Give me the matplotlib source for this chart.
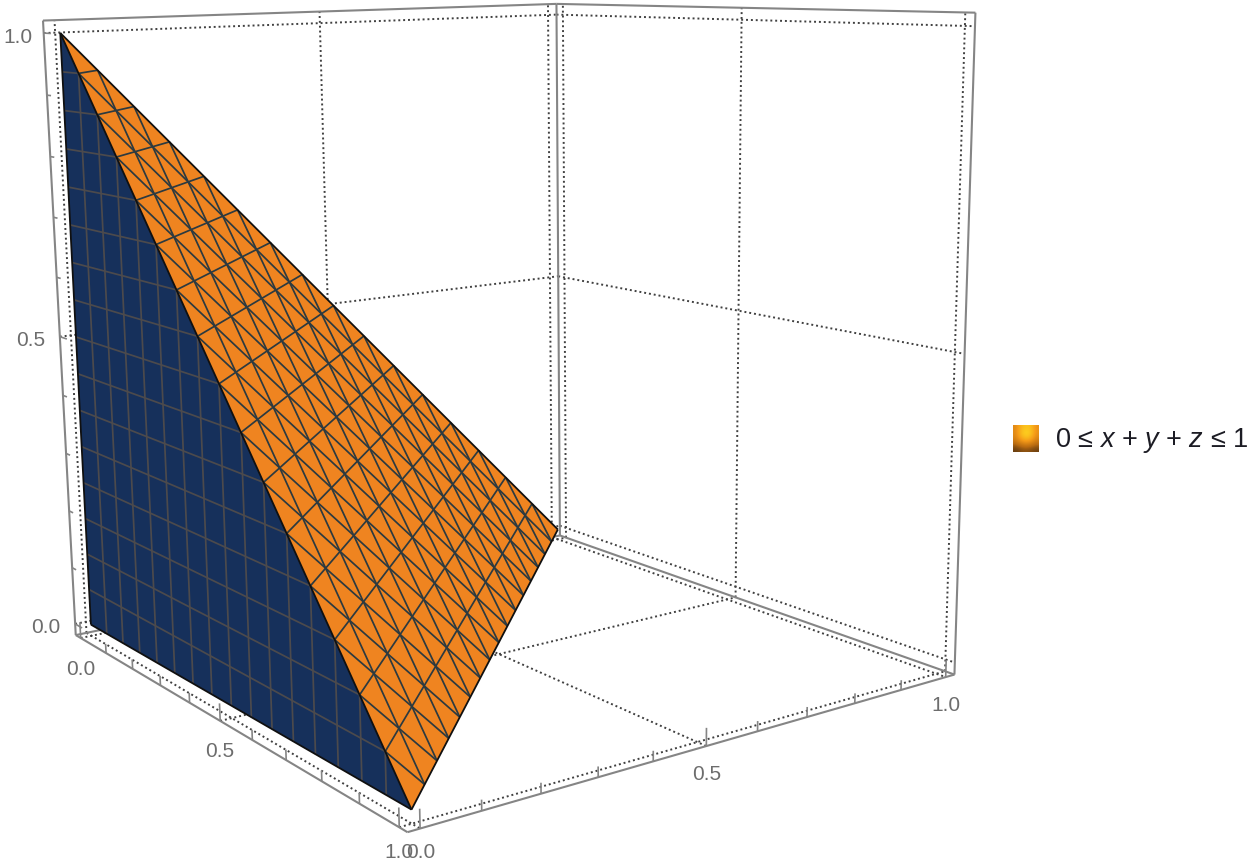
import numpy as np
import matplotlib
matplotlib.use("Agg")
import matplotlib.pyplot as plt
from matplotlib.colors import LinearSegmentedColormap
from mpl_toolkits.mplot3d.art3d import Poly3DCollection
from mpl_toolkits.mplot3d import proj3d

plt.rcParams['font.family'] = ['Liberation Sans', 'DejaVu Sans']
plt.rcParams['mathtext.fontset'] = 'custom'
plt.rcParams['mathtext.rm'] = 'Liberation Sans'
plt.rcParams['mathtext.it'] = 'Liberation Sans:italic'

# ---- data ----
surface_tri = [(0, 0, 1), (1, 0, 0), (0, 1, 0)]      # x + y + z = 1
wall_tri = [(0, 0, 1), (0, 0, 0), (1, 0, 0)]         # y = 0
mesh_levels = [0.0625, 0.125, 0.1875, 0.25, 0.3125, 0.375, 0.4375, 0.5,
               0.5625, 0.625, 0.6875, 0.75, 0.8125, 0.875, 0.9375]
grid_levels = [0.0, 0.5, 1.0]
minor_ticks = [0.0, 0.1, 0.2, 0.3, 0.4, 0.5, 0.6, 0.7, 0.8, 0.9, 1.0]
label_ticks = [0.0, 0.5, 1.0]
tick_text = ['0.0', '0.5', '1.0']
legend_label = r'0 ≤ $x$ + $y$ + $z$ ≤ 1'

PAD = 0.02
LO, HI = -PAD, 1 + PAD

# ---- camera: fitted from where the box corners fall in the picture ----
cam_world = [(LO, LO, LO), (HI, LO, LO), (HI, HI, LO), (LO, LO, HI), (LO, HI, HI), (HI, HI, HI), (LO, HI, LO),
             (0, 0, 1), (0, 0, 0), (1, 0, 0), (0, 1, 0)]
cam_pixel = [(78, 635), (407, 832), (954, 675), (43, 21), (557, 4), (975, 12), (558, 535),
             (60, 33), (88, 624), (413, 810), (560, 530)]


def fit_camera(world, pixel):
    rows = []
    for (X, Y, Z), (u, v) in zip(world, pixel):
        rows.append([X, Y, Z, 1, 0, 0, 0, 0, -u * X, -u * Y, -u * Z, -u])
        rows.append([0, 0, 0, 0, X, Y, Z, 1, -v * X, -v * Y, -v * Z, -v])
    _, _, vt = np.linalg.svd(np.array(rows, float))
    p = vt[-1].reshape(3, 4)
    if p[2] @ np.array([0.5, 0.5, 0.5, 1]) < 0:
        p = -p
    return np.array([p[0], p[1], [0, 0, 0, -1], p[2]])


M = fit_camera(cam_world, cam_pixel)

fig = plt.figure(figsize=(12.5, 8.64), dpi=100, facecolor='white')
ax = fig.add_axes([0, 0, 1, 1], projection='3d', computed_zorder=False)
ax.set_proj_type('ortho')
ax.apply_aspect = lambda position=None: None
ax.get_proj = lambda: M
ax.set_axis_off()
ax.patch.set_visible(False)
ax.viewLim.intervalx = (0, 1250)
ax.viewLim.intervaly = (864, 0)

FRAME = '#858585'
DOT = '#404040'
ORANGE = '#ef8420'
BLUE = '#16305b'


def seg(p, q, **kw):
    ax.plot([p[0], q[0]], [p[1], q[1]], [p[2], q[2]], solid_capstyle='butt', **kw)


dot_kw = dict(color=DOT, lw=1.4, linestyle=(0, (1.0, 1.5)), zorder=1)
for g in grid_levels:
    # wall x = LO
    seg((LO, g, LO), (LO, g, HI), **dot_kw)
    seg((LO, LO, g), (LO, HI, g), **dot_kw)
    # wall y = HI
    seg((g, HI, LO), (g, HI, HI), **dot_kw)
    seg((LO, HI, g), (HI, HI, g), **dot_kw)
    # floor z = LO
    seg((g, LO, LO), (g, HI, LO), **dot_kw)
    seg((LO, g, LO), (HI, g, LO), **dot_kw)

frame_kw = dict(color=FRAME, lw=1.5, zorder=2)
outline = [(LO, LO, LO), (HI, LO, LO), (HI, HI, LO), (HI, HI, HI), (LO, HI, HI), (LO, LO, HI), (LO, LO, LO)]
for p, q in zip(outline[:-1], outline[1:]):
    seg(p, q, **frame_kw)
seg((LO, HI, LO), (LO, HI, HI), **frame_kw)
seg((LO, HI, LO), (HI, HI, LO), **frame_kw)
seg((LO, HI, LO), (LO, LO, LO), **frame_kw)

tick_kw = dict(color=FRAME, lw=1.2, zorder=2)
for t in minor_ticks:
    L = 0.028 if t in label_ticks else 0.016
    seg((t, LO, LO), (t, LO, LO + L), **tick_kw)
    seg((HI, t, LO), (HI, t, LO + L), **tick_kw)
    seg((LO, LO, t), (LO + L, LO, t), **tick_kw)

# surfaces
ax.add_collection3d(Poly3DCollection([wall_tri], facecolors=BLUE, edgecolors='none', zorder=3))
ax.add_collection3d(Poly3DCollection([surface_tri], facecolors=ORANGE, edgecolors='none', zorder=3))

wall_line = dict(color='#4c4a4c', lw=1.25, zorder=4)
surf_line = dict(color='#2c3a40', lw=1.25, zorder=5)
for m in mesh_levels:
    seg((m, 0, 0), (m, 0, 1 - m), **wall_line)
    seg((0, 0, m), (1 - m, 0, m), **wall_line)
    seg((0, 1 - m, m), (1 - m, 0, m), **surf_line)
    seg((m, 0, 1 - m), (m, 1 - m, 0), **surf_line)
    seg((0, m, 1 - m), (1 - m, m, 0), **surf_line)

edge_kw = dict(color='#101010', lw=1.3, zorder=6)
seg(surface_tri[0], surface_tri[1], **edge_kw)
seg(surface_tri[0], surface_tri[2], **edge_kw)
seg(surface_tri[1], surface_tri[2], **edge_kw)
seg(wall_tri[0], wall_tri[1], **edge_kw)
seg(wall_tri[1], wall_tri[2], **edge_kw)


def tick_label(pt, text, dx, dy):
    u, v, _ = proj3d.proj_transform(pt[0], pt[1], pt[2], M)
    ax.annotate(text, xy=(float(u), float(v)), xycoords='data', xytext=(dx, -dy), textcoords='offset pixels',
                ha='center', va='center', fontsize=15, color='#6d6d6d', annotation_clip=False)


z_dx = [-29, -29, -26]
x_dy = [31, 31, 25]
y_off = [(1, 24), (0, 28), (0, 28)]
for t, s, zd, xd, yo in zip(label_ticks, tick_text, z_dx, x_dy, y_off):
    tick_label((LO, LO, t), s, zd, 4)
    tick_label((t, LO, LO), s, 0, xd)
    tick_label((HI, t, LO), s, yo[0], yo[1])

# legend
swatch_cells = [[0.55, 0.80, 0.90, 0.85, 0.60],
                [0.55, 0.85, 1.00, 0.90, 0.60],
                [0.50, 0.72, 0.85, 0.75, 0.52],
                [0.32, 0.45, 0.52, 0.46, 0.34],
                [0.12, 0.18, 0.22, 0.18, 0.14]]
swatch_cmap = LinearSegmentedColormap.from_list('sw', ['#3a2410', '#b86a10', '#f59a18', '#ffd820'])
sw = fig.add_axes([1013 / 1250, 1 - 452 / 864, 26 / 1250, 27 / 864])
sw.imshow(swatch_cells, cmap=swatch_cmap, vmin=0, vmax=1, interpolation='bicubic', aspect='auto')
sw.set_axis_off()
fig.text(1055 / 1250, 1 - 447 / 864, legend_label, fontsize=19.5, color='#1c1c24', ha='left', va='baseline')

fig.savefig('out.png', dpi=100, facecolor='white')
